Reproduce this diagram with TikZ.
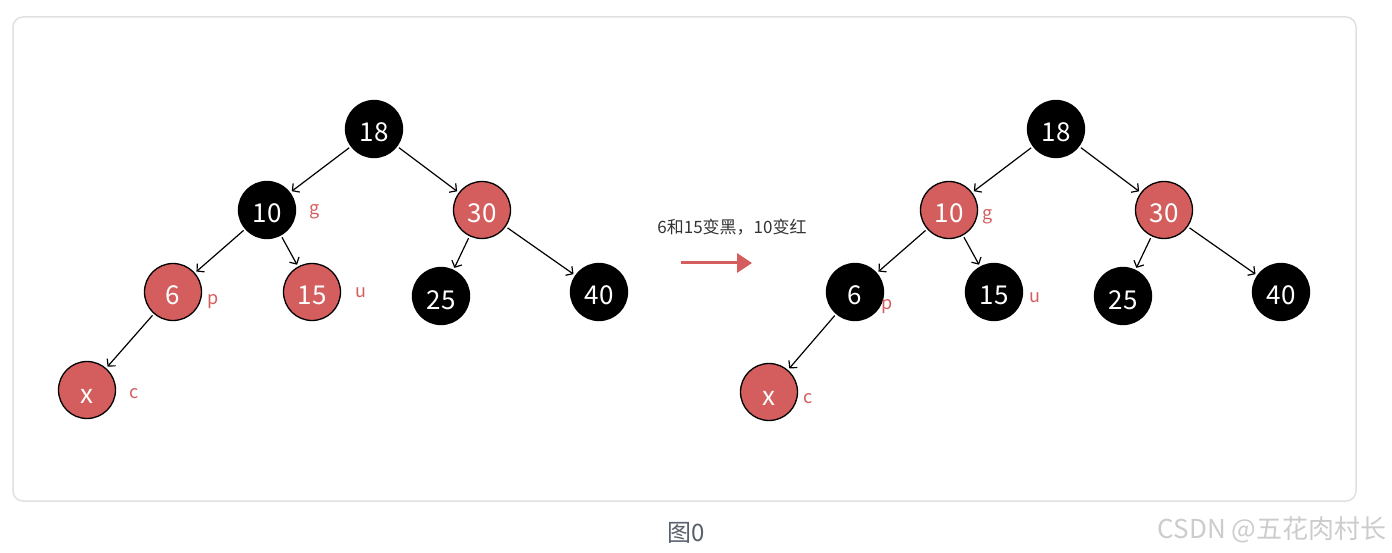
\documentclass[tikz,border=0pt]{standalone}
\usepackage{fontspec}
\setmainfont{Noto Sans CJK SC}
\usepackage{xcolor}
\usepackage{tikz}
\usetikzlibrary{arrows.meta,positioning}
\definecolor{rbred}{RGB}{212,94,94}
\definecolor{rbframe}{RGB}{224,224,226}
\definecolor{rbcaption}{RGB}{88,96,108}
\definecolor{rbnote}{RGB}{51,51,51}
\tikzset{
  rbnode/.style={
    circle, draw=black, line width=1.3pt,
    minimum size=57pt, inner sep=0pt, text=white,
    text height=26pt, text depth=0pt,
    font=\fontsize{26}{26}\selectfont
  },
  rbblack/.style={rbnode,fill=black},
  rbred/.style={rbnode,fill=rbred},
  rbedge/.style={-{Straight Barb[length=5pt,width=11pt]},line width=1.2pt,
    shorten >=2pt,shorten <=2pt},
  rbtag/.style={text=rbred,font=\fontsize{18}{18}\selectfont,inner sep=0pt},
  rbframebox/.style={draw=rbframe,line width=1.5pt,rounded corners=10pt},
  rbstep/.style={-{Triangle[length=15pt,width=19pt]},draw=rbred,line width=3pt},
  rbnote/.style={text=rbnote,font=\fontsize{17}{17}\selectfont},
  rbcaption/.style={text=rbcaption,font=\fontsize{24}{24}\selectfont},
  rbmark/.style={text=gray!40,font=\fontsize{26}{26}\selectfont}
}
\begin{document}
\begin{tikzpicture}[x=1pt,y=-1pt]
  \useasboundingbox (0,0) rectangle (1392,553);
  \draw[rbframebox] (13,17) rectangle (1356,501);

  % before
  \node[rbblack] (L18) at (374,129) {18};
  \node[rbblack] (L10) at (267,210) {10};
  \node[rbred]   (L30) at (482,210) {30};
  \node[rbred]   (L6)  at (173,292) {6};
  \node[rbred]   (L15) at (312,292) {15};
  \node[rbblack] (L25) at (441,296) {25};
  \node[rbblack] (L40) at (599,292) {40};
  \node[rbred]   (Lx)  at (87,390)  {x};
  \node[rbtag] at (315,212) {g};
  \node[rbtag] at (213,302) {p};
  \node[rbtag] at (361,293) {u};
  \node[rbtag] at (134,394) {c};
  \draw[rbedge] (L18) -- (L10);
  \draw[rbedge] (L18) -- (L30);
  \draw[rbedge] (L10) -- (L6);
  \draw[rbedge] (L10) -- (L15);
  \draw[rbedge] (L30) -- (L25);
  \draw[rbedge] (L30) -- (L40);
  \draw[rbedge] (L6) -- (Lx);

  % recolouring step
  \node[rbnote] (note) at (732,227) {6和15变黑，10变红};
  \coordinate (S0) at (681,263);
  \coordinate (S1) at (752,263);
  \draw[rbstep] (S0) -- (S1);

  % after
  \node[rbblack] (R18) at (1056,129) {18};
  \node[rbred]   (R10) at (949,210)  {10};
  \node[rbred]   (R30) at (1164,210) {30};
  \node[rbblack] (R6)  at (855,292)  {6};
  \node[rbblack] (R15) at (994,292)  {15};
  \node[rbblack] (R25) at (1123,296) {25};
  \node[rbblack] (R40) at (1281,292) {40};
  \node[rbred]   (Rx)  at (769,392)  {x};
  \node[rbtag] at (988,217)  {g};
  \node[rbtag] at (887,307)  {p};
  \node[rbtag] at (1035,298) {u};
  \node[rbtag] at (808,399)  {c};
  \draw[rbedge] (R18) -- (R10);
  \draw[rbedge] (R18) -- (R30);
  \draw[rbedge] (R10) -- (R6);
  \draw[rbedge] (R10) -- (R15);
  \draw[rbedge] (R30) -- (R25);
  \draw[rbedge] (R30) -- (R40);
  \draw[rbedge] (R6) -- (Rx);

  \node[rbcaption] (cap) at (686,533) {图0};
  \node[rbmark,anchor=east] (mark) at (1390,530) {CSDN @五花肉村长};
\end{tikzpicture}
\end{document}
